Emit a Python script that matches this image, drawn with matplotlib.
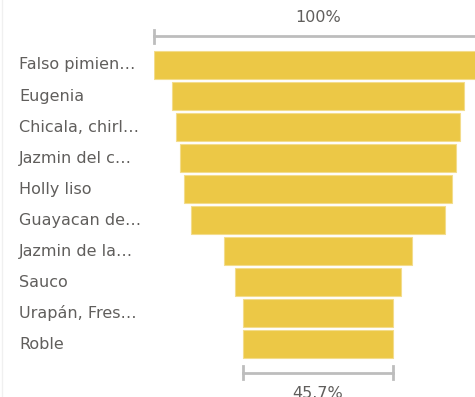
import numpy as np
import matplotlib.pyplot as plt

plt.rcParams['font.family'] = ['DejaVu Sans']

categories = ['Falso pimien…', 'Eugenia', 'Chicala, chirl…', 'Jazmin del c…',
              'Holly liso', 'Guayacan de…', 'Jazmin de la…', 'Sauco',
              'Urapán, Fres…', 'Roble']
values = [100.0, 89.4, 86.5, 84.2, 82.0, 77.6, 57.6, 50.5, 45.7, 45.7]

W, H = 475, 397
bar_color = '#ECC846'
text_color = '#605E5C'
line_color = '#BDBDBD'

fig = plt.figure(figsize=(W / 100, H / 100), dpi=100)

# funnel axes: x in percent of the first stage, centred on 0
x0, x1 = 154.3, 481.7
ax = fig.add_axes([x0 / W, 0, (x1 - x0) / W, 1])
ax.set_xlim(-50, 50)
step = 31.02
first = 65.0
ax.set_ylim((H - first) / step, -first / step)
ax.axis('off')

vals = np.array(values)
widths = vals / vals[0] * 100
ypos = np.arange(len(categories))
ax.barh(ypos, widths, left=-widths / 2, height=0.91, color=bar_color,
        edgecolor='#F3DC8C', linewidth=0.8)

# top bracket showing the first stage
top_y = (36 - first) / step
ax.plot([-50, 50], [top_y, top_y], color=line_color, lw=2, clip_on=False)
ax.plot([-50, -50], [top_y - 0.2, top_y + 0.22], color=line_color, lw=2, clip_on=False)
ax.text(0, (18 - first) / step, '100%', ha='center', va='center',
        fontsize=11.5, color=text_color)

# bottom bracket showing the last stage relative to the first
last = widths[-1]
bot_y = (372.7 - first) / step
ax.plot([-last / 2, last / 2], [bot_y, bot_y], color=line_color, lw=2, clip_on=False)
for xe in (-last / 2, last / 2):
    ax.plot([xe, xe], [bot_y - 0.22, bot_y + 0.2], color=line_color, lw=2, clip_on=False)
ax.text(0, (394 - first) / step, f'{values[-1] / values[0] * 100:.1f}%',
        ha='center', va='center', fontsize=11.5, color=text_color)

# category labels
for i, name in enumerate(categories):
    fig.text(19 / W, 1 - (first + i * step) / H, name, ha='left', va='center',
             fontsize=11.5, color=text_color)

fig.add_artist(plt.Line2D([1.5 / W, 1.5 / W], [0, 1], color='#F0F0F0', lw=1))

fig.savefig('out.png', dpi=100, facecolor='white')
